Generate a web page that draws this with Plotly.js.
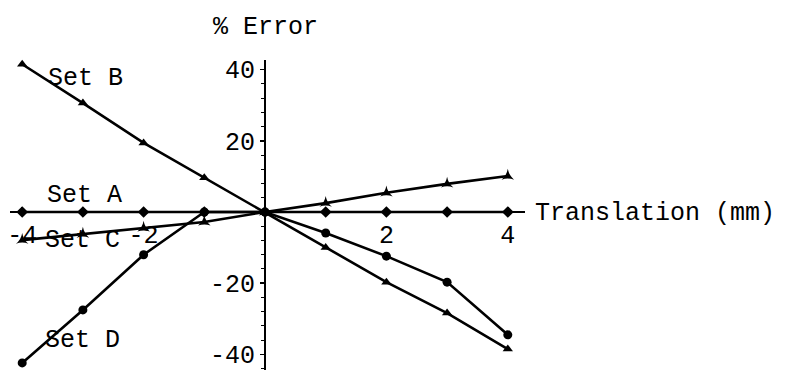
<!DOCTYPE html>
<html>
<head>
<meta charset="utf-8">
<script src="https://cdn.plot.ly/plotly-3.0.1.min.js"></script>
<style>html,body{margin:0;padding:0;background:#fff;}#chart{width:788px;height:372px;}</style>
</head>
<body>
<div id="chart"></div>
<script>
const xVals = [-4, -3, -2, -1, 0, 1, 2, 3, 4];
const setA = [0, 0, 0, 0, 0, 0, 0, 0, 0];
const setB = [41.5, 30.6, 19.4, 9.6, 0, -10, -19.7, -28.4, -38.5];
const setC = [-7.9, -6.2, -4.5, -2.8, 0, 2.5, 5.4, 7.9, 10.1];
const setD = [-42.4, -27.5, -12, 0, 0, -5.9, -12.4, -19.7, -34.5];
const xTicks = [-4, -2, 2, 4];
const xTickText = ['-4', '-2', '2', '4'];
const yTicks = [-40, -20, 20, 40];
const yTickText = ['-40', '-20', '20', '40'];
const seriesNames = ['Set A', 'Set B', 'Set C', 'Set D'];

const W = 788, H = 372;
const FONT = 'Liberation Mono, Courier New, monospace';
const FS = 25;
// pixel geometry
const px0 = 265, pxPerX = 60.7;
const py0 = 212, pyPerY = 3.56;
const xLeftPx = 10, xRightPx = 525;
const yTopPx = 60, yBotPx = 370;
const xr = [(xLeftPx - px0) / pxPerX, (xRightPx - px0) / pxPerX];
const yr = [(py0 - yBotPx) / pyPerY, (py0 - yTopPx) / pyPerY];

function tr(y, sym, size) {
  return {
    x: xVals, y: y, type: 'scatter', mode: 'lines+markers', cliponaxis: false,
    line: {color: '#000', width: 2.6},
    marker: {color: '#000', symbol: sym, size: size},
    showlegend: false, hoverinfo: 'none'
  };
}
const data = [
  tr(setA, 'diamond', 9),
  tr(setB, 'triangle-up', 9),
  tr(setC, 'star-triangle-up', 9),
  tr(setD, 'circle', 9)
];

const labelPos = [[-2.98, 4.5], [-2.95, 37.4], [-3.0, -8.1], [-3.0, -36]];
const annotations = seriesNames.map((n, i) => ({
  x: labelPos[i][0], y: labelPos[i][1], xref: 'x', yref: 'y', text: n,
  xanchor: 'center', yanchor: 'middle',
  showarrow: false, font: {family: FONT, size: FS, color: '#000'}
}));
annotations.push({x: 265 / W, y: (H - 27) / H, xref: 'paper', yref: 'paper', text: '% Error',
  xanchor: 'center', yanchor: 'middle',
  showarrow: false, font: {family: FONT, size: FS, color: '#000'}});
annotations.push({x: 533 / W, y: (H - 214) / H, xref: 'paper', yref: 'paper', xanchor: 'left', yanchor: 'middle',
  text: 'Translation (mm)',
  showarrow: false, font: {family: FONT, size: FS, color: '#000'}});

const layout = {
  width: W, height: H,
  margin: {l: 0, r: 0, t: 0, b: 0, pad: 0},
  paper_bgcolor: '#fff', plot_bgcolor: 'rgba(0,0,0,0)',
  font: {family: FONT, size: FS, color: '#000'},
  xaxis: {
    domain: [xLeftPx / W, xRightPx / W], range: xr,
    anchor: 'free', position: (H - py0) / H,
    showline: true, linecolor: '#000', linewidth: 2,
    showgrid: false, zeroline: false,
    tickmode: 'array', tickvals: xTicks, ticktext: xTickText,
    ticks: 'inside', ticklen: 4, tickwidth: 1.5, tickcolor: '#000',
    tickfont: {family: FONT, size: FS, color: '#000'}
  },
  yaxis: {
    domain: [(H - yBotPx) / H, (H - yTopPx) / H], range: yr,
    anchor: 'free', position: px0 / W,
    showline: true, linecolor: '#000', linewidth: 2,
    showgrid: false, zeroline: false,
    tickmode: 'array', tickvals: yTicks, ticktext: yTickText,
    ticks: 'outside', ticklen: 4, tickwidth: 1.5, tickcolor: '#000',
    minor: {tickmode: 'linear', tick0: 0, dtick: 4, ticks: 'outside', ticklen: 3, tickwidth: 1, tickcolor: '#000', showgrid: false},
    tickfont: {family: FONT, size: FS, color: '#000'}
  },
  annotations: annotations
};
Plotly.newPlot('chart', data, layout, {staticPlot: true, displayModeBar: false});
</script>
</body>
</html>
